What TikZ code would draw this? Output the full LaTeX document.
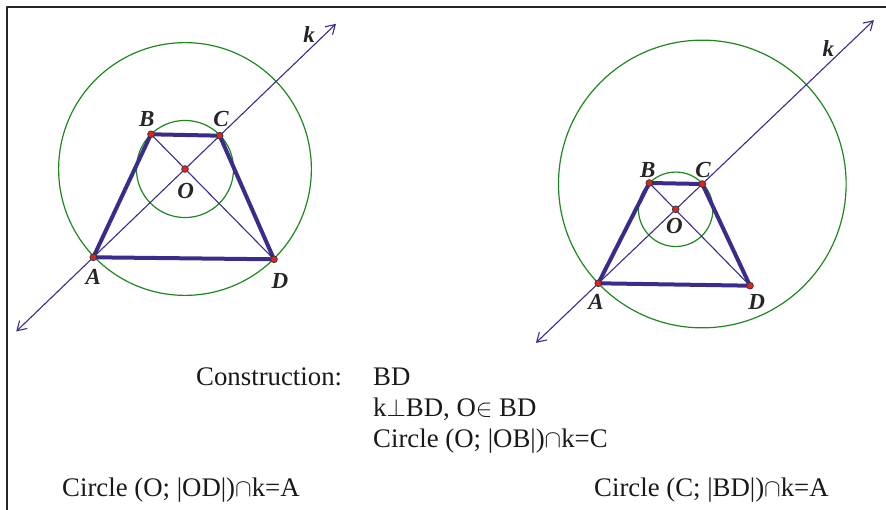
\documentclass[tikz,border=0pt]{standalone}
\usepackage{fontspec}
\setmainfont{Liberation Serif}
\usetikzlibrary{arrows.meta, calc}
\definecolor{kblue}{RGB}{58,44,140}
\definecolor{cgreen}{RGB}{30,135,30}
\definecolor{pred}{RGB}{225,35,30}
\tikzset{
    figure/.style={x=1pt, y=-1pt, line join=round, >={Straight Barb[length=9pt, width=11pt]}},
    side/.style={draw=kblue, line width=4pt, line cap=round},
    diag/.style={draw=kblue, line width=1.1pt},
    axis/.style={diag, <->},
    circ/.style={draw=cgreen, line width=1.2pt},
    dot/.style={fill=pred, draw=black!80, line width=0.7pt},
    lbl/.style={font=\fontsize{23}{23}\selectfont\bfseries\itshape, text=black!85, inner sep=0pt},
    txt/.style={font=\fontsize{26.8}{26.8}\selectfont, text=black!90, anchor=base west, inner sep=0pt},
    frame/.style={draw=black!85, line width=2pt},
}

\begin{document}
\begin{tikzpicture}[figure]
    \useasboundingbox (0,0) rectangle (886,510);
    \draw[frame] (886,7) -- (7,7) -- (7,510);

    % left figure
    \coordinate (A1) at (93.3,257.3);
    \coordinate (B1) at (151,134.3);
    \coordinate (C1) at (219.7,135.7);
    \coordinate (D1) at (274,259.3);
    \coordinate (O1) at (185,169);
    \coordinate (ks1) at ($(A1)!-0.61!(C1)$);
    \coordinate (ke1) at ($(A1)!1.92!(C1)$);

    \draw[circ] let \p1 = ($(D1)-(O1)$) in (O1) circle[radius={veclen(\x1,\y1)}];
    \draw[circ] let \p1 = ($(B1)-(O1)$) in (O1) circle[radius={veclen(\x1,\y1)}];
    \draw[axis] (ks1) -- (ke1);
    \draw[diag] (B1) -- (D1);
    \draw[side] (A1) -- (B1) -- (C1) -- (D1) -- cycle;
    \foreach \p in {A1,B1,C1,D1,O1}
        \draw[dot] (\p) circle[radius=3.4];

    \node[lbl] (lA1) at (93.3,277) {A};
    \node[lbl] (lB1) at (146.7,119) {B};
    \node[lbl] (lC1) at (221,119) {C};
    \node[lbl] (lD1) at (280,281) {D};
    \node[lbl] (lO1) at (185.7,191) {O};
    \node[lbl] (lk1) at (309,35) {k};

    % right figure
    \coordinate (A2) at (598.3,283.3);
    \coordinate (B2) at (649.3,183);
    \coordinate (C2) at (702.3,184);
    \coordinate (D2) at (750,285.7);
    \coordinate (O2) at (675.7,209.3);
    \coordinate (ks2) at ($(A2)!-0.6!(C2)$);
    \coordinate (ke2) at ($(A2)!2.65!(C2)$);

    \draw[circ] let \p1 = ($(D2)-(B2)$) in (C2) circle[radius={veclen(\x1,\y1)}];
    \draw[circ] let \p1 = ($(B2)-(O2)$) in (O2) circle[radius={veclen(\x1,\y1)}];
    \draw[axis] (ks2) -- (ke2);
    \draw[diag] (B2) -- (D2);
    \draw[side] (A2) -- (B2) -- (C2) -- (D2) -- cycle;
    \foreach \p in {A2,B2,C2,D2,O2}
        \draw[dot] (\p) circle[radius=3.4];

    \node[lbl] (lA2) at (596,301.7) {A};
    \node[lbl] (lB2) at (647.7,170) {B};
    \node[lbl] (lC2) at (703,170) {C};
    \node[lbl] (lD2) at (756.7,301.7) {D};
    \node[lbl] (lO2) at (674.3,225.7) {O};
    \node[lbl] (lk2) at (828.3,49) {k};

    % construction text
    \node[txt] (cons) at (196,385) {Construction:};
    \node[txt] (st1) at (373,385) {BD};
    \node[txt] (st2) at (373,416) {k$\perp$BD, O$\in$ BD};
    \node[txt] (st3) at (373,447) {Circle (O; |OB|)$\cap$k=C};
    \node[txt] (st4) at (62,496) {Circle (O; |OD|)$\cap$k=A};
    \node[txt] (st5) at (594,496) {Circle (C; |BD|)$\cap$k=A};
\end{tikzpicture}
\end{document}
